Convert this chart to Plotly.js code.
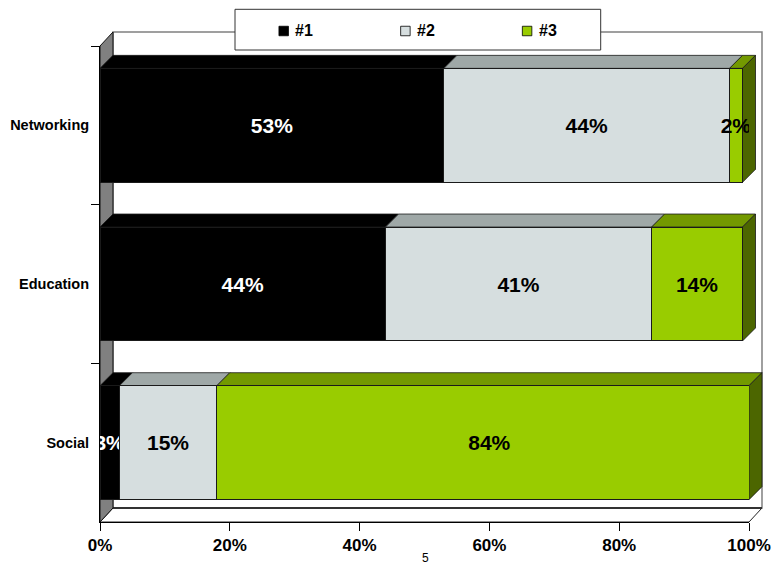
<!DOCTYPE html>
<html><head><meta charset="utf-8">
<script src="https://cdn.plot.ly/plotly-3.0.1.min.js"></script>
<style>html,body{margin:0;padding:0;background:#fff}</style>
</head><body><div id="chart" style="width:772px;height:567px"></div>
<script>
// ---- data ----
const categories = ['Networking', 'Education', 'Social'];
const seriesNames = ['#1', '#2', '#3'];
const series1 = [53, 44, 3];
const series2 = [44, 41, 15];
const series3 = [2, 14, 84];
const xTickVals = [0, 20, 40, 60, 80, 100];
const xTickText = ['0%', '20%', '40%', '60%', '80%', '100%'];
const pageNumber = '5';

// ---- styles ----
const FONT = 'Arial, "Liberation Sans", Helvetica, sans-serif';
const frontColors = ['#000000', '#D6DEDF', '#99CC00'];
const topColors = ['#000000', '#9FA8A7', '#739900'];
const sideColors = ['#000000', '#8A9292', '#4C6600'];
const textColors = ['#FFFFFF', '#000000', '#000000'];
const W = 772, H = 567;
const M = {l: 100, r: 23, t: 46, b: 45};
const plotW = W - M.l - M.r, plotH = H - M.t - M.b;
const XMIN = 0, XMAX = 100;
const YTOP = -0.5, YBOT = 2.5;
const BARW = 0.718;
const WALL_DX = 13, WALL_DY = 14;
const BAR_DX = 13, BAR_DY = 13;

const allSeries = [series1, series2, series3];

function P(v, yv, offX, offY) {
  const px = (v - XMIN) / (XMAX - XMIN) + offX / plotW;
  const py = (YBOT - yv) / (YBOT - YTOP) - offY / plotH;
  return [px, py];
}
function poly(pts, fill, line, lw, layer) {
  const d = 'M' + pts.map(p => p[0].toFixed(5) + ',' + p[1].toFixed(5)).join('L') + 'Z';
  return {type: 'path', xref: 'paper', yref: 'paper', path: d, fillcolor: fill,
          line: {color: line, width: lw}, layer: layer || 'below'};
}

const shapes = [];
// back wall
shapes.push(poly([P(XMIN, YTOP, WALL_DX, -WALL_DY), P(XMAX, YTOP, WALL_DX, -WALL_DY),
                  P(XMAX, YBOT, WALL_DX, -WALL_DY), P(XMIN, YBOT, WALL_DX, -WALL_DY)],
                 '#FFFFFF', '#808080', 1.5));
// floor
shapes.push(poly([P(XMIN, YBOT, 0, 0), P(XMAX, YBOT, 0, 0), P(XMAX, YBOT, WALL_DX, -WALL_DY), P(XMIN, YBOT, WALL_DX, -WALL_DY)],
                 '#FFFFFF', '#222222', 1));
// floor back edge (thicker)
shapes.push({type: 'line', xref: 'paper', yref: 'paper', layer: 'below',
  x0: P(XMIN, YBOT, WALL_DX, -WALL_DY)[0], y0: P(XMIN, YBOT, WALL_DX, -WALL_DY)[1],
  x1: P(XMAX, YBOT, WALL_DX, -WALL_DY)[0], y1: P(XMAX, YBOT, WALL_DX, -WALL_DY)[1],
  line: {color: '#333333', width: 2}});
// left wall
shapes.push(poly([P(XMIN, YTOP, 0, 0), P(XMIN, YTOP, WALL_DX, -WALL_DY), P(XMIN, YBOT, WALL_DX, -WALL_DY), P(XMIN, YBOT, 0, 0)],
                 '#808080', '#111111', 1));

// bar 3D faces
categories.forEach((c, i) => {
  let cum = 0;
  const yT = i - BARW / 2, yB = i + BARW / 2;
  let lastEnd = 0, lastK = 0;
  allSeries.forEach((s, k) => {
    const a = Math.min(cum, XMAX), b = Math.min(cum + s[i], XMAX);
    cum += s[i];
    if (b > a) {
      shapes.push(poly([P(a, yT, 0, 0), P(b, yT, 0, 0), P(b, yT, BAR_DX, -BAR_DY), P(a, yT, BAR_DX, -BAR_DY)],
                       topColors[k], '#1a1a1a', 0.8));
      lastEnd = b; lastK = k;
    }
  });
  shapes.push(poly([P(lastEnd, yT, 0, 0), P(lastEnd, yT, BAR_DX, -BAR_DY), P(lastEnd, yB, BAR_DX, -BAR_DY), P(lastEnd, yB, 0, 0)],
                   sideColors[lastK], '#1a1a1a', 0.8));
});

// manual legend
const legL = 235, legR = 600.7, legT = 9.3, legB = 50;
function pixToPaper(xp, yp) { return [(xp - M.l) / plotW, (H - M.b - yp) / plotH]; }
const lt = pixToPaper(legL, legT), lb = pixToPaper(legR, legB);
shapes.push({type: 'rect', xref: 'paper', yref: 'paper', layer: 'above', x0: lt[0], y0: lb[1], x1: lb[0], y1: lt[1],
  fillcolor: '#FFFFFF', line: {color: '#333333', width: 1}});
const annotations = [];
const legItemX0 = 283.7, legItemStep = 121.7, legY = 31, sq = 9.5;
seriesNames.forEach((n, k) => {
  const cx = legItemX0 + k * legItemStep;
  const a = pixToPaper(cx - sq / 2, legY - sq / 2), b = pixToPaper(cx + sq / 2, legY + sq / 2);
  shapes.push({type: 'rect', xref: 'paper', yref: 'paper', layer: 'above', x0: a[0], y0: b[1], x1: b[0], y1: a[1],
    fillcolor: frontColors[k], line: {color: '#000000', width: 0.8}});
  const t = pixToPaper(cx + 9.5, legY);
  annotations.push({xref: 'paper', yref: 'paper', x: t[0], y: t[1], xanchor: 'left', yanchor: 'middle',
    text: n, showarrow: false, font: {family: FONT, size: 16, weight: 'bold', color: '#000'}});
});
// page number
const pn = pixToPaper(425, 558);
annotations.push({xref: 'paper', yref: 'paper', x: pn[0], y: pn[1], xanchor: 'center', yanchor: 'middle',
  text: pageNumber, showarrow: false, font: {family: FONT, size: 12, color: '#000'}});

const traces = allSeries.map((s, k) => ({
  type: 'bar', orientation: 'h', name: seriesNames[k],
  y: categories, x: s, width: BARW,
  marker: {color: frontColors[k], line: {color: '#1a1a1a', width: 1}},
  text: s.map(v => v + '%'), textposition: 'inside', insidetextanchor: 'middle',
  constraintext: 'none', textangle: 0,
  insidetextfont: {family: FONT, size: 21, weight: 'bold', color: textColors[k]},
  hoverinfo: 'skip', cliponaxis: true
}));

const layout = {
  width: W, height: H, margin: M,
  paper_bgcolor: '#FFFFFF', plot_bgcolor: 'rgba(0,0,0,0)',
  barmode: 'stack', showlegend: false,
  font: {family: FONT, color: '#000'},
  xaxis: {range: [XMIN, XMAX], tickvals: xTickVals, ticktext: xTickText,
    showgrid: false, zeroline: false, showline: true, linecolor: '#000', linewidth: 1,
    ticks: 'outside', ticklen: 8, tickcolor: '#000', tickwidth: 1,
    tickfont: {family: FONT, size: 17, weight: 'bold', color: '#000'}, automargin: false, fixedrange: true},
  yaxis: {type: 'category', categoryarray: categories, categoryorder: 'array', range: [YBOT, YTOP],
    showgrid: false, zeroline: false, showline: true, linecolor: '#000', linewidth: 1,
    ticks: 'outside', ticklen: 8, tickcolor: '#000', tickwidth: 1, tickson: 'boundaries',
    ticklabelstandoff: 7,
    tickfont: {family: FONT, size: 14.5, weight: 'bold', color: '#000'}, automargin: false, fixedrange: true},
  shapes: shapes, annotations: annotations
};
Plotly.newPlot('chart', traces, layout, {staticPlot: true, displayModeBar: false});
</script></body></html>
